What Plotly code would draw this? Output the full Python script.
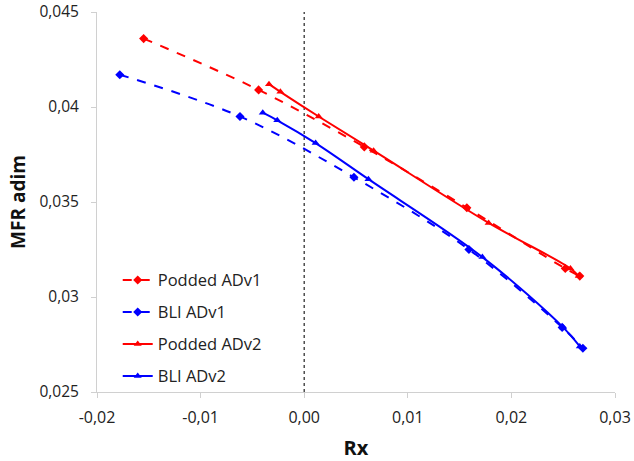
import plotly.graph_objects as go

# Data
podded_v1_x = [-0.0155, -0.0044, 0.0058, 0.0157, 0.0252, 0.0266]
podded_v1_y = [0.0436, 0.0409, 0.0379, 0.0347, 0.0315, 0.0311]

bli_v1_x = [-0.0178, -0.0062, 0.0048, 0.0159, 0.0249, 0.0269]
bli_v1_y = [0.0417, 0.0395, 0.0363, 0.0325, 0.0284, 0.0273]

podded_v2_x = [-0.0034, -0.0023, 0.0014, 0.0067, 0.0178, 0.0257, 0.0265]
podded_v2_y = [0.0412, 0.0408, 0.0395, 0.0377, 0.0339, 0.0315, 0.0311]

bli_v2_x = [-0.0040, -0.0026, 0.0011, 0.0062, 0.0172, 0.0250, 0.0266]
bli_v2_y = [0.0397, 0.0393, 0.0381, 0.0362, 0.0321, 0.0284, 0.0274]

x_tickvals = [-0.02, -0.01, 0.0, 0.01, 0.02, 0.03]
x_ticktext = ["-0,02", "-0,01", "0,00", "0,01", "0,02", "0,03"]
y_tickvals = [0.025, 0.03, 0.035, 0.04, 0.045]
y_ticktext = ["0,025", "0,03", "0,035", "0,04", "0,045"]

RED = "#ff0000"
BLUE = "#0000ff"

fig = go.Figure()

# zero reference line
fig.add_trace(go.Scatter(x=[0, 0], y=[0.025, 0.045], mode="lines",
                         line=dict(color="#333333", width=1.3, dash="dot"),
                         showlegend=False, hoverinfo="skip"))

fig.add_trace(go.Scatter(x=podded_v1_x, y=podded_v1_y, name="Podded ADv1", legendgroup="a",
                         mode="lines+markers", line=dict(color=RED, width=2, dash="dash", shape="spline"),
                         marker=dict(symbol="diamond", size=7, color=RED)))
fig.add_trace(go.Scatter(x=bli_v1_x, y=bli_v1_y, name="BLI ADv1", legendgroup="b",
                         mode="lines+markers", line=dict(color=BLUE, width=2, dash="dash", shape="spline"),
                         marker=dict(symbol="diamond", size=7, color=BLUE)))
fig.add_trace(go.Scatter(x=podded_v2_x, y=podded_v2_y, name="Podded ADv2", legendgroup="c",
                         mode="lines+markers", line=dict(color=RED, width=2, shape="spline"),
                         marker=dict(symbol="triangle-up", size=7, color=RED)))
fig.add_trace(go.Scatter(x=bli_v2_x, y=bli_v2_y, name="BLI ADv2", legendgroup="d",
                         mode="lines+markers", line=dict(color=BLUE, width=2, shape="spline"),
                         marker=dict(symbol="triangle-up", size=7, color=BLUE)))

font_family = "Open Sans, Liberation Sans, sans-serif"

fig.update_layout(
    width=634, height=461,
    margin=dict(l=97, r=19, t=12, b=69, autoexpand=False),
    paper_bgcolor="white", plot_bgcolor="white",
    font=dict(family=font_family, size=15, color="#222222"),
    showlegend=True,
    legend=dict(x=0.04, y=0.34, xanchor="left", yanchor="top",
                bgcolor="rgba(0,0,0,0)", font=dict(size=16.5, color="#222222"),
                tracegroupgap=7.5, itemwidth=30),
    xaxis=dict(range=[-0.02, 0.03], tickvals=x_tickvals, ticktext=x_ticktext, automargin=False,
               showgrid=False, zeroline=False, showline=True, linecolor="#d0d0d0", linewidth=1,
               ticks="outside", ticklen=5, tickcolor="#d0d0d0", ticklabelstandoff=6,
               tickfont=dict(size=16, color="#222222"),
               title=dict(text="<b>Rx</b>", font=dict(size=20, color="#111111"), standoff=18)),
    yaxis=dict(range=[0.025, 0.045], tickvals=y_tickvals, ticktext=y_ticktext, automargin=False,
               showgrid=False, zeroline=False, showline=True, linecolor="#d0d0d0", linewidth=1,
               ticks="outside", ticklen=5, tickcolor="#d0d0d0", ticklabelstandoff=9,
               tickfont=dict(size=15.5, color="#222222"),
               title=dict(text="<b>MFR adim</b>", font=dict(size=19, color="#111111"), standoff=8)),
)

fig.write_html("out.html")
